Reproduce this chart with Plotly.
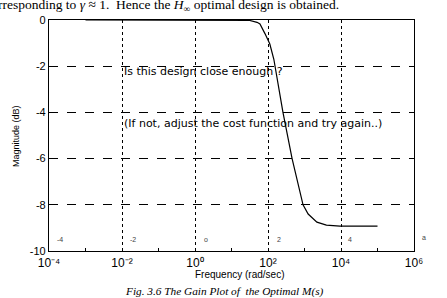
import plotly.graph_objects as go

# data
log_freq = [-3.0, 0.0, 1.0, 1.5, 1.7, 1.78, 1.92, 2.05, 2.16, 2.19, 2.41, 2.66, 2.96, 3.1, 3.34, 3.6, 3.97, 5.0]
mag_db = [0.0, 0.0, 0.0, -0.02, -0.1, -0.17, -0.6, -1.04, -1.7, -2.0, -4.0, -6.0, -8.0, -8.4, -8.75, -8.88, -8.92, -8.92]
freq = [10 ** v for v in log_freq]

x_tickvals = [1e-4, 1e-2, 1e0, 1e2, 1e4, 1e6]
x_ticktext = ["10⁻⁴", "10⁻²", "10⁰", "10²", "10⁴", "10⁶"]
x_minor = [1e-3, 1e-1, 1e1, 1e3, 1e5]
y_tickvals = [0, -2, -4, -6, -8, -10]
y_ticktext = ["0", "-2", "-4", "-6", "-8", "-10"]
stray_labels = ["-4", "-2", "o", "2", "4"]
stray_pos = [-3.7, -1.7, 0.3, 2.3, 4.25]

W, H = 447, 298
L, R, T, B = 49, 414, 20, 251


def px(x):
    return (x - L) / (R - L)


def py(y):
    return (B - y) / (B - T)


fig = go.Figure()
fig.add_trace(go.Scatter(x=freq, y=mag_db, mode="lines",
                         line=dict(color="black", width=1.2), showlegend=False))

font = "Liberation Sans, Arial, sans-serif"
serif = "Liberation Serif, Times New Roman, serif"
fig.update_layout(
    width=W, height=H,
    margin=dict(l=L, r=W - R, t=T, b=H - B),
    paper_bgcolor="white", plot_bgcolor="white",
    font=dict(family=font, color="black"),
    xaxis=dict(type="log", range=[-4, 6], tickvals=x_tickvals, ticktext=x_ticktext,
               showgrid=True, gridcolor="black", gridwidth=1, griddash="dot",
               showline=True, linecolor="black", linewidth=1.2, mirror=True,
               ticks="", tickfont=dict(size=12, family=font), zeroline=False,
               minor=dict(tickvals=x_minor, ticks="inside", ticklen=3,
                          tickcolor="black", showgrid=False)),
    yaxis=dict(range=[-10, 0], tickvals=y_tickvals, ticktext=y_ticktext,
               showgrid=True, gridcolor="black", gridwidth=1, griddash="dash",
               showline=True, linecolor="black", linewidth=1.2, mirror=True,
               ticks="", tickfont=dict(size=11, family=font), zeroline=False),
)


def note(x, y, text, size, family=font, xanchor="center", angle=0, color="black"):
    fig.add_annotation(x=px(x), y=py(y), xref="paper", yref="paper", text=text,
                       showarrow=False, xanchor=xanchor, yanchor="middle",
                       textangle=angle, font=dict(size=size, family=family, color=color))


note(122, 71, "Is this design close enough ?", 11, family="DejaVu Sans", xanchor="left")
note(122, 123, "(If not, adjust the cost function and try again..)", 11,
     family="DejaVu Sans", xanchor="left")

for lab, pos in zip(stray_labels, stray_pos):
    fig.add_annotation(x=pos, y=-9.5, xref="x", yref="y", text=lab, showarrow=False,
                       font=dict(size=7, family=font, color="#444"))
note(424, 237, "a", 7, color="#444")

note(239, 274, "Frequency (rad/sec)", 10)
note(16, 136, "Magnitude (dB)", 9, angle=-90)
note(224, 291, "<i>Fig. 3.6 The Gain Plot of  the Optimal M(s)</i>", 11.3, family=serif)
note(-4, 5, "rresponding to <i>γ</i> ≈ 1.  Hence the <i>H</i><sub>∞</sub> optimal design is obtained.",
     13.5, family=serif, xanchor="left")

fig.write_html("out.html")
